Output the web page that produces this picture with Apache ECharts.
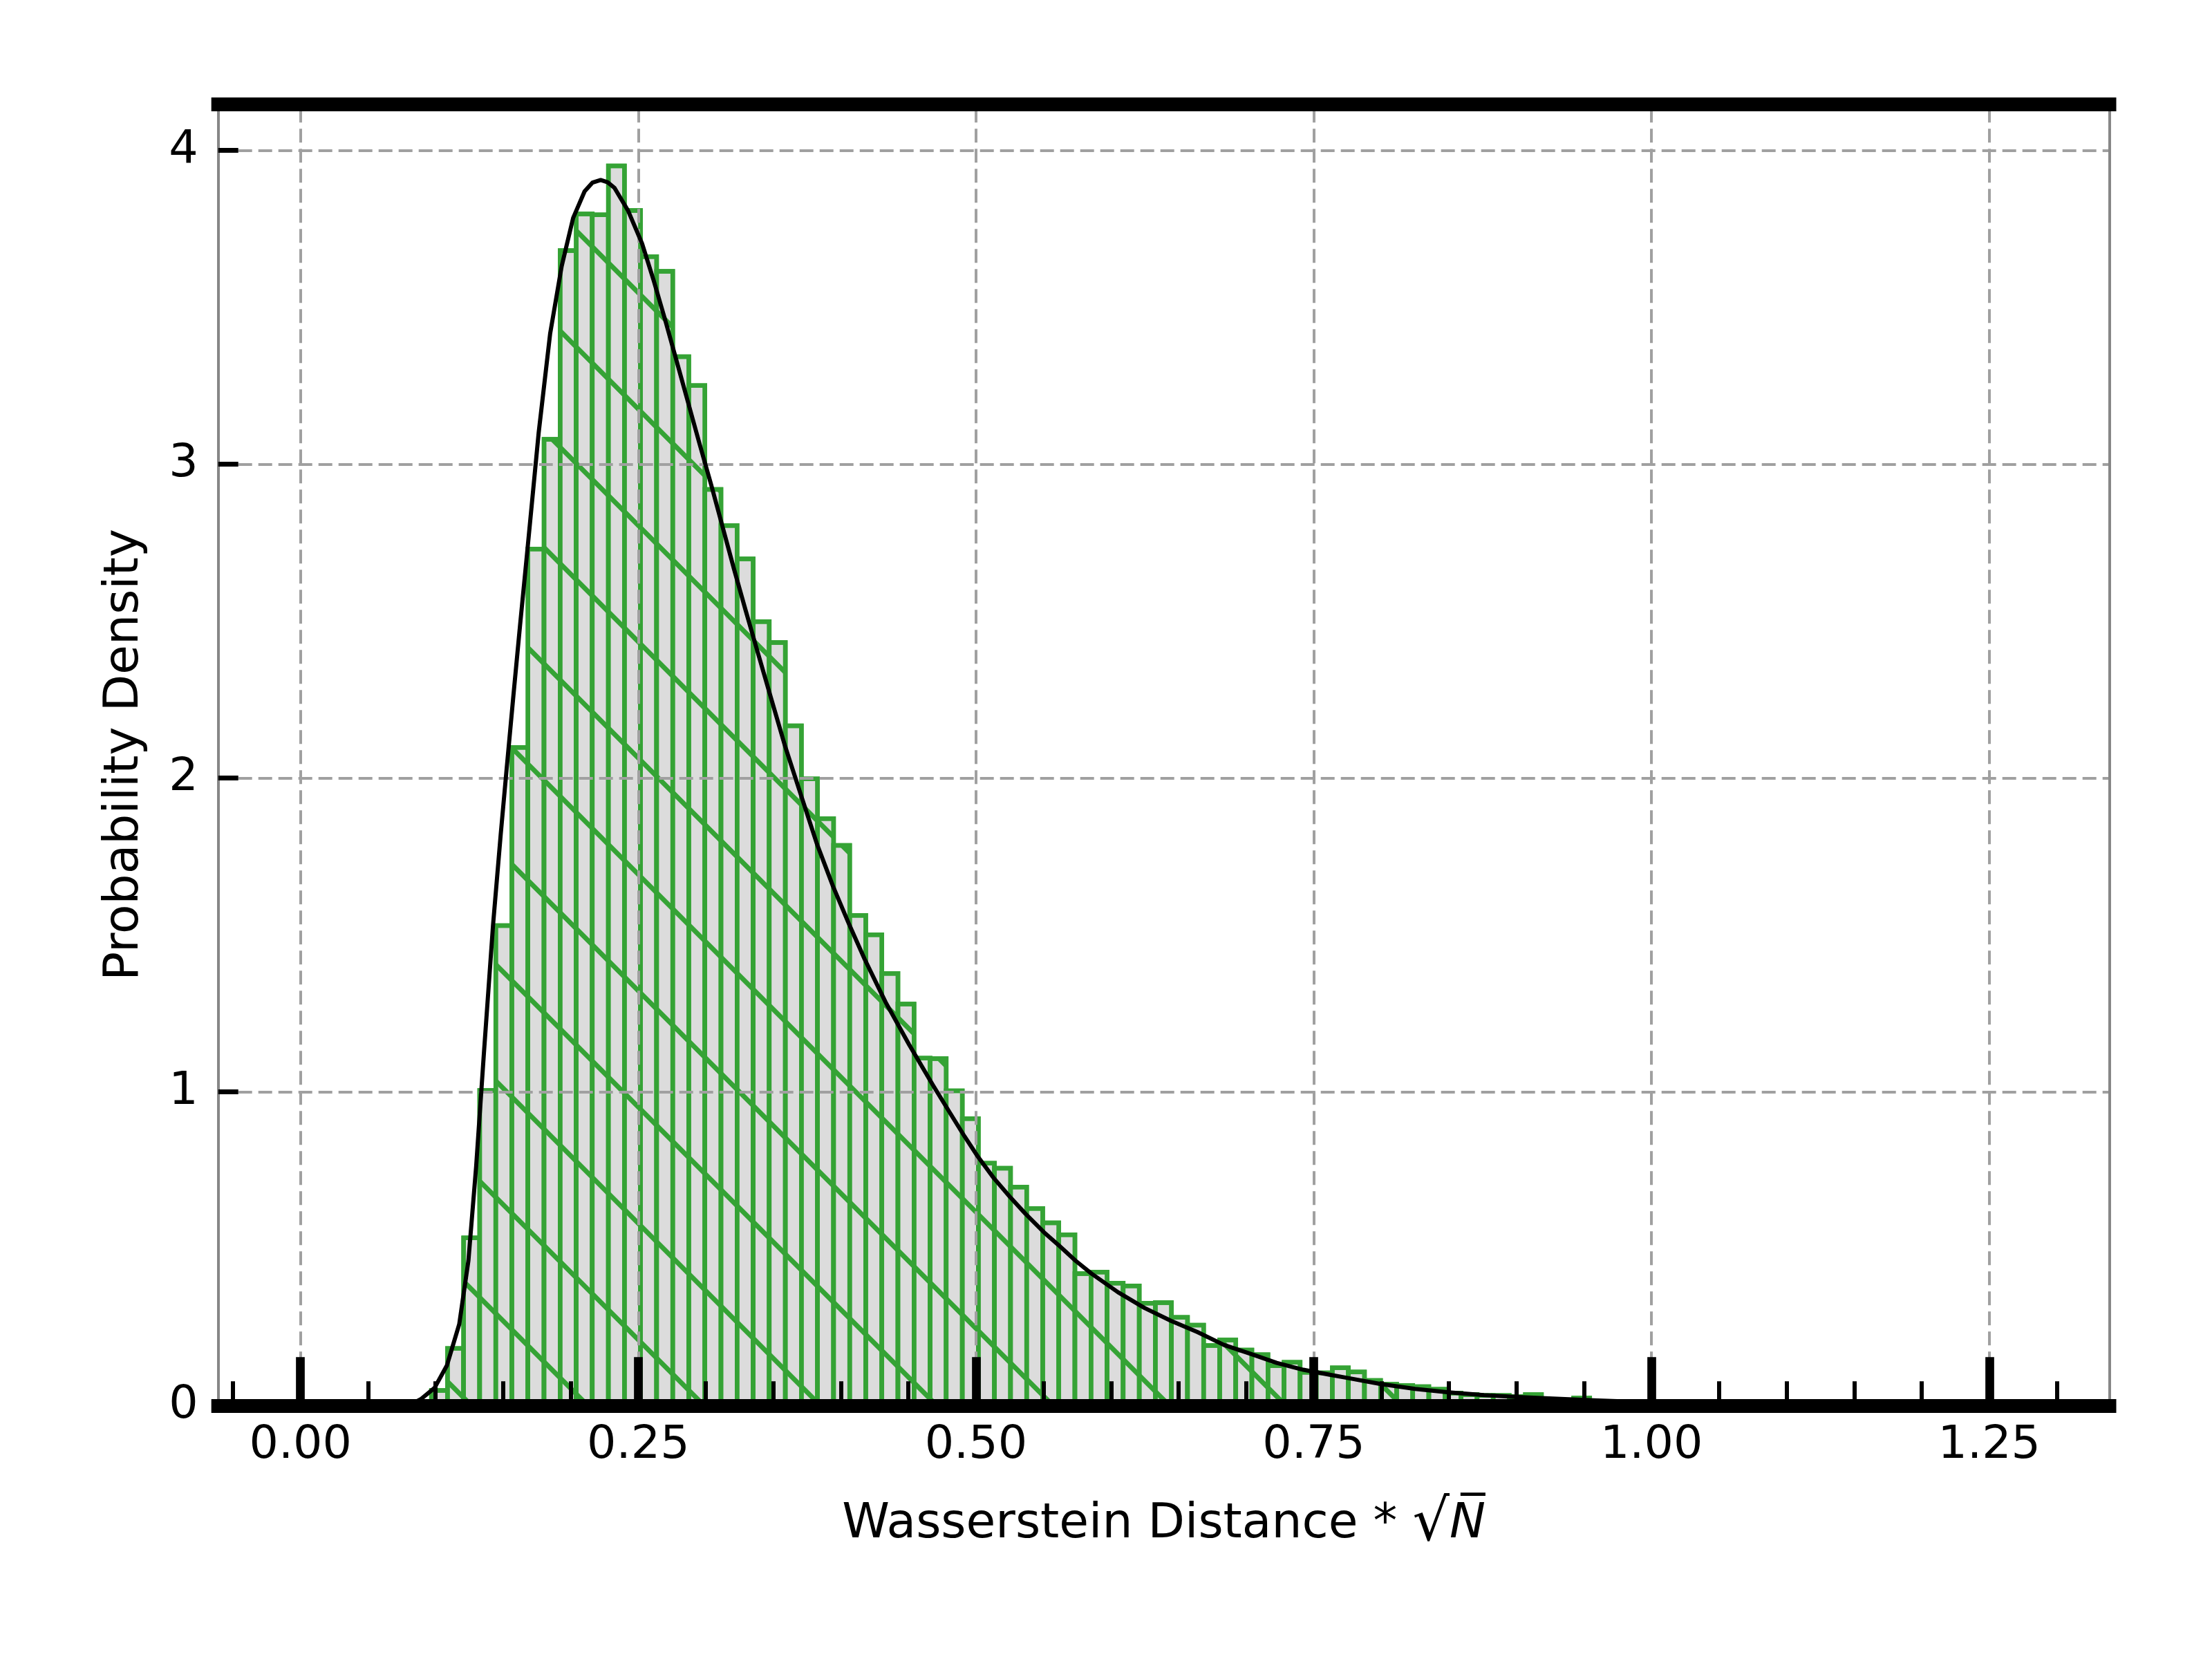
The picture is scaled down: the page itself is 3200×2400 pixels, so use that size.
<!DOCTYPE html>
<html><head><meta charset="utf-8">
<script src="https://cdn.jsdelivr.net/npm/echarts@6/dist/echarts.min.js"></script>
<style>html,body{margin:0;padding:0;background:#fff}#c{width:3200px;height:2400px}</style>
</head><body><div id="c"></div>
<script>
// ---- data ----
const binStart = 0.0969;
const binWidth = 0.011908;
const density = [
  0.048, 0.182, 0.534, 1.004, 1.529, 2.097, 2.729, 3.079, 3.680, 3.797,
  3.794, 3.950, 3.808, 3.661, 3.614, 3.342, 3.250, 2.919, 2.804, 2.698,
  2.498, 2.431, 2.166, 1.997, 1.870, 1.785, 1.562, 1.500, 1.377, 1.279,
  1.107, 1.105, 1.003, 0.914, 0.772, 0.756, 0.696, 0.628, 0.582, 0.544,
  0.420, 0.425, 0.390, 0.381, 0.326, 0.328, 0.281, 0.256, 0.191, 0.209,
  0.177, 0.162, 0.127, 0.138, 0.106, 0.104, 0.120, 0.107, 0.080, 0.068,
  0.064, 0.060, 0.052, 0.040, 0.035, 0.032, 0.032, 0.029, 0.035, 0.018,
  0.014, 0.024, 0.010, 0.008, 0.006, 0.008
];
const curveX = [0.000, 0.080, 0.089, 0.0992, 0.1084, 0.1175, 0.1243, 0.1300, 0.1357, 0.1425,
  0.1482, 0.1524, 0.1575, 0.1626, 0.1677, 0.1763, 0.1848, 0.1933, 0.2018,
  0.2103, 0.2162, 0.2222, 0.2273, 0.2324, 0.2426, 0.2528, 0.2614, 0.2698, 0.2784, 0.2869, 0.2954,
  0.3039, 0.3124, 0.3209, 0.3294, 0.3354, 0.3472, 0.3589, 0.3706, 0.3823, 0.3941,
  0.4058, 0.4175, 0.4331, 0.4505, 0.4681, 0.4798, 0.4916, 0.5014, 0.5131, 0.5249,
  0.5366, 0.5503, 0.5621, 0.5738, 0.5856, 0.6051, 0.6247, 0.6443, 0.6639, 0.6835,
  0.7030, 0.7226, 0.7422, 0.7618, 0.7735, 0.799, 0.825, 0.850, 0.876, 0.901,
  0.927, 0.960, 1.000, 1.050, 1.100, 1.200, 1.270];
const curveY = [0.000, 0.000, 0.020, 0.056, 0.128, 0.259, 0.462, 0.761, 1.119, 1.530,
  1.820, 2.020, 2.258, 2.490, 2.715, 3.100, 3.416, 3.630, 3.784,
  3.869, 3.897, 3.905, 3.898, 3.880, 3.806, 3.703, 3.585, 3.461, 3.328, 3.196, 3.064,
  2.935, 2.800, 2.665, 2.535, 2.445, 2.270, 2.098, 1.943, 1.789, 1.655,
  1.536, 1.423, 1.285, 1.150, 1.021, 0.939, 0.857, 0.793, 0.725, 0.666,
  0.611, 0.552, 0.507, 0.461, 0.420, 0.361, 0.311, 0.270, 0.234, 0.193,
  0.165, 0.136, 0.114, 0.098, 0.089, 0.069, 0.053, 0.042, 0.033, 0.027,
  0.022, 0.016, 0.010, 0.006, 0.003, 0.001, 0.000];
const xTickValues = [0, 0.25, 0.5, 0.75, 1.0, 1.25];
const xMinorTickValues = [-0.05, 0.05, 0.10, 0.15, 0.20, 0.30, 0.35, 0.40, 0.45, 0.55, 0.60, 0.65, 0.70,
  0.80, 0.85, 0.90, 0.95, 1.05, 1.10, 1.15, 1.20, 1.30];
const yTickValues = [0, 1, 2, 3, 4];
const yGridValues = [1, 2, 3, 4];
const xLimits = [-0.0609, 1.3389];
const yLimits = [0, 4.1475];
const xAxisTitle = '{a|Wasserstein Distance * }{b|\u221A}{c|N\u0305}';
const yAxisTitle = 'Probability Density';

// ---- build ----
const histData = density.map((h, i) => [binStart + i * binWidth, binStart + (i + 1) * binWidth, h]);
const curveData = curveX.map((x, i) => [x, curveY[i]]);
const FONT = 'DejaVu Sans';
const GREEN = '#35a335';
const GRID_STYLE = { color: '#a0a0a0', width: 4, type: [20, 9] };
const TITLE_SIZE = 69.5;

const chart = echarts.init(document.getElementById('c'), null, { renderer: 'canvas', devicePixelRatio: 1 });
const gridLines = xTickValues.map(v => ({ xAxis: v })).concat(yGridValues.map(v => ({ yAxis: v })));

chart.setOption({
  animation: false,
  backgroundColor: '#ffffff',
  grid: { left: 315.7, right: 148.5, top: 150.3, bottom: 366.7, containLabel: false, outerBoundsMode: 'none' },
  xAxis: [
    {
      type: 'value', position: 'bottom', min: xLimits[0], max: xLimits[1], z: 4,
      axisLine: { show: true, onZero: false, lineStyle: { color: '#000', width: 20, cap: 'square' } },
      axisTick: { show: true, inside: true, length: 70, customValues: xTickValues, lineStyle: { color: '#000', width: 12.7 } },
      axisLabel: { show: true, customValues: xTickValues, formatter: v => Number(v).toFixed(2), fontSize: 66.7, fontFamily: FONT, color: '#000', margin: 25 },
      splitLine: { show: false }, minorTick: { show: false },
      name: xAxisTitle, nameLocation: 'middle', nameGap: 131,
      nameTextStyle: {
        fontSize: TITLE_SIZE, fontFamily: FONT, color: '#000',
        rich: {
          a: { fontSize: TITLE_SIZE, fontFamily: FONT, color: '#000' },
          b: { fontSize: 84, fontFamily: FONT, color: '#000' },
          c: { fontSize: TITLE_SIZE, fontFamily: FONT, color: '#000', fontStyle: 'italic' }
        }
      }
    },
    {
      type: 'value', position: 'top', min: xLimits[0], max: xLimits[1], z: 4,
      axisLine: { show: true, onZero: false, lineStyle: { color: '#000', width: 20, cap: 'square' } },
      axisTick: { show: false }, axisLabel: { show: false }, splitLine: { show: false }
    },
    {
      type: 'value', position: 'bottom', min: xLimits[0], max: xLimits[1], z: 4,
      axisLine: { show: false, onZero: false },
      axisTick: { show: true, inside: true, length: 35, customValues: xMinorTickValues, lineStyle: { color: '#000', width: 6 } },
      axisLabel: { show: false }, splitLine: { show: false }
    }
  ],
  yAxis: [
    {
      type: 'value', position: 'left', min: yLimits[0], max: yLimits[1], z: 4,
      axisLine: { show: true, onZero: false, lineStyle: { color: '#878787', width: 4 } },
      axisTick: { show: true, inside: true, length: 29, customValues: yTickValues, lineStyle: { color: '#000', width: 7 } },
      axisLabel: { show: true, customValues: yTickValues, fontSize: 66.7, fontFamily: FONT, color: '#000', margin: 29 },
      splitLine: { show: false },
      name: yAxisTitle, nameLocation: 'middle', nameRotate: 90, nameGap: 100,
      nameTextStyle: { fontSize: TITLE_SIZE, fontFamily: FONT, color: '#000' }
    },
    {
      type: 'value', position: 'right', min: yLimits[0], max: yLimits[1], z: 4,
      axisLine: { show: true, onZero: false, lineStyle: { color: '#878787', width: 4 } },
      axisTick: { show: false }, axisLabel: { show: false }, splitLine: { show: false }
    }
  ],
  series: [
    {
      type: 'custom', name: 'hist', xAxisIndex: 0, yAxisIndex: 0, z: 1,
      data: histData,
      encode: { x: [0, 1], y: 2 },
      renderItem: function (params, api) {
        const pTop = api.coord([api.value(0), api.value(2)]);
        const pBot = api.coord([api.value(1), 0]);
        return {
          type: 'rect',
          shape: { x: pTop[0], y: pTop[1], width: pBot[0] - pTop[0], height: pBot[1] - pTop[1] },
          style: {
            fill: '#dcdcdc', stroke: GREEN, lineWidth: 6.5,
            decal: { symbol: 'rect', symbolSize: 1, color: GREEN, backgroundColor: null,
                     dashArrayX: [1, 0], dashArrayY: [6.5, 112], rotation: Math.PI / 4 }
          }
        };
      }
    },
    {
      type: 'line', name: 'grid', xAxisIndex: 0, yAxisIndex: 0, z: 2, data: [],
      markLine: {
        z: 2, silent: true, symbol: ['none', 'none'], animation: false,
        label: { show: false }, lineStyle: GRID_STYLE, emphasis: { disabled: true },
        data: gridLines
      }
    },
    {
      type: 'line', name: 'fit', xAxisIndex: 0, yAxisIndex: 0, z: 3,
      data: curveData, showSymbol: false, symbol: 'none', smooth: false,
      lineStyle: { color: '#000', width: 6, join: 'round', cap: 'round' }
    }
  ]
});
</script></body></html>
